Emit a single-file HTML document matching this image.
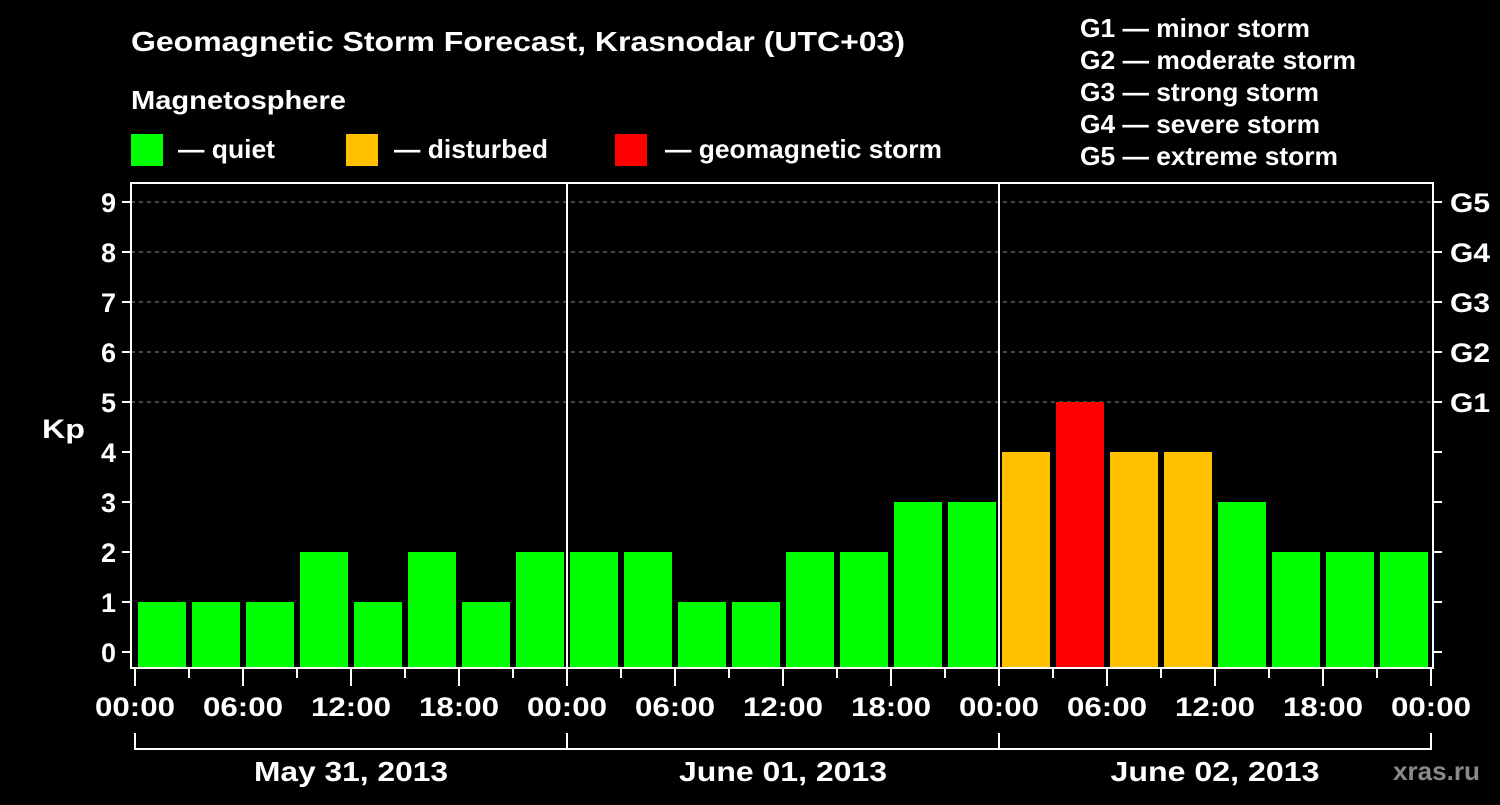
<!DOCTYPE html>
<html><head><meta charset="utf-8"><style>
body{margin:0;background:#000;width:1500px;height:800px;overflow:hidden;font-family:"Liberation Sans",Arial,sans-serif}
svg text{font-family:"Liberation Sans",Arial,sans-serif;font-weight:bold;fill:#fff}
</style></head><body>
<svg id="c" width="1500" height="800">
<text x="131" y="51" font-size="28" textLength="774" lengthAdjust="spacingAndGlyphs">Geomagnetic Storm Forecast, Krasnodar (UTC+03)</text>
<text x="131" y="109" font-size="26" textLength="215" lengthAdjust="spacingAndGlyphs">Magnetosphere</text>
<rect x="131" y="134" width="32" height="32" fill="#00ff00"/>
<text x="178" y="158" font-size="26" textLength="97" lengthAdjust="spacingAndGlyphs">— quiet</text>
<rect x="346" y="134" width="32" height="32" fill="#ffc000"/>
<text x="394" y="158" font-size="26" textLength="154" lengthAdjust="spacingAndGlyphs">— disturbed</text>
<rect x="615" y="134" width="32" height="32" fill="#ff0000"/>
<text x="665" y="158" font-size="26" textLength="277" lengthAdjust="spacingAndGlyphs">— geomagnetic storm</text>
<g font-size="26">
<text x="1080" y="37" textLength="230" lengthAdjust="spacingAndGlyphs">G1 — minor storm</text>
<text x="1080" y="69" textLength="276" lengthAdjust="spacingAndGlyphs">G2 — moderate storm</text>
<text x="1080" y="101" textLength="239" lengthAdjust="spacingAndGlyphs">G3 — strong storm</text>
<text x="1080" y="133" textLength="240" lengthAdjust="spacingAndGlyphs">G4 — severe storm</text>
<text x="1080" y="165" textLength="258" lengthAdjust="spacingAndGlyphs">G5 — extreme storm</text>
</g>
<text x="42" y="438" font-size="27" textLength="43" lengthAdjust="spacingAndGlyphs">Kp</text>
<text x="1393" y="780" font-size="26" textLength="87" lengthAdjust="spacingAndGlyphs" style="fill:#8a8a8a">xras.ru</text>
<g id="plot"></g>
</svg>
<script>
const kp=[1,1,1,2,1,2,1,2, 2,2,1,1,2,2,3,3, 4,5,4,4,3,2,2,2];
const days=["May 31, 2013","June 01, 2013","June 02, 2013"];
const dayWidths=[194,208,209];
const hourLabels=["00:00","06:00","12:00","18:00"];
const yTicks=[0,1,2,3,4,5,6,7,8,9];
const gLabels=["G1","G2","G3","G4","G5"];
const NS="http://www.w3.org/2000/svg";
const plotG=document.getElementById('plot');
const x0=135,dayW=432,y0=652,unit=50,pBottom=668,pTop=183,pLeft=131,pRight=1433;
const X=h=>x0+h*dayW/24;
const Y=v=>y0-v*unit;
function el(t,a){const e=document.createElementNS(NS,t);for(const k in a)e.setAttribute(k,a[k]);plotG.appendChild(e);return e;}
for(const v of yTicks){if(v>=5){const l=el('line',{x1:pLeft,x2:pRight,y1:Y(v),y2:Y(v),stroke:'#888','stroke-dasharray':'4 4','stroke-width':1});

}}
kp.forEach((v,i)=>{const c=v>=5?'#ff0000':v>=4?'#ffc000':'#00ff00';
const r=el('rect',{x:X(i*3)+3,y:Y(v),width:dayW/8-6,height:pBottom-1-Y(v),fill:c});

});
const f=el('rect',{x:pLeft,y:pTop,width:pRight-pLeft,height:pBottom-pTop,fill:'none',stroke:'#fff','stroke-width':2});


for(let d=1;d<days.length;d++){const l=el('line',{x1:X(d*24),x2:X(d*24),y1:pTop,y2:pBottom,stroke:'#fff','stroke-width':2});

}
for(const v of yTicks){el('line',{x1:122,x2:pLeft,y1:Y(v),y2:Y(v),stroke:'#fff','stroke-width':2});
el('line',{x1:pRight,x2:pRight+9,y1:Y(v),y2:Y(v),stroke:'#fff','stroke-width':2});
const t=el('text',{x:116,y:Y(v)+10,'font-size':27,'text-anchor':'end'});t.textContent=v;

}
gLabels.forEach((s,i)=>{const t=el('text',{x:1450,y:Y(5+i)+10,'font-size':27,textLength:40,lengthAdjust:'spacingAndGlyphs'});t.textContent=s;

});
for(let h=0;h<=days.length*24;h+=3){const major=h%6===0;
el('line',{x1:X(h),x2:X(h),y1:pBottom,y2:major?686:678,stroke:'#fff','stroke-width':2});
if(major){const t=el('text',{x:X(h)-40,y:716,'font-size':27,textLength:80,lengthAdjust:'spacingAndGlyphs'});t.textContent=hourLabels[(h%24)/6];

}}
el('line',{x1:X(0),x2:X(days.length*24),y1:749,y2:749,stroke:'#fff','stroke-width':2});
for(let d=0;d<=days.length;d++)el('line',{x1:X(d*24),x2:X(d*24),y1:733,y2:750,stroke:'#fff','stroke-width':2});
days.forEach((s,d)=>{const w=dayWidths[d];const t=el('text',{x:X(d*24+12)-w/2,y:781,'font-size':28,textLength:w,lengthAdjust:'spacingAndGlyphs'});t.textContent=s;

});
</script>
</body></html>
